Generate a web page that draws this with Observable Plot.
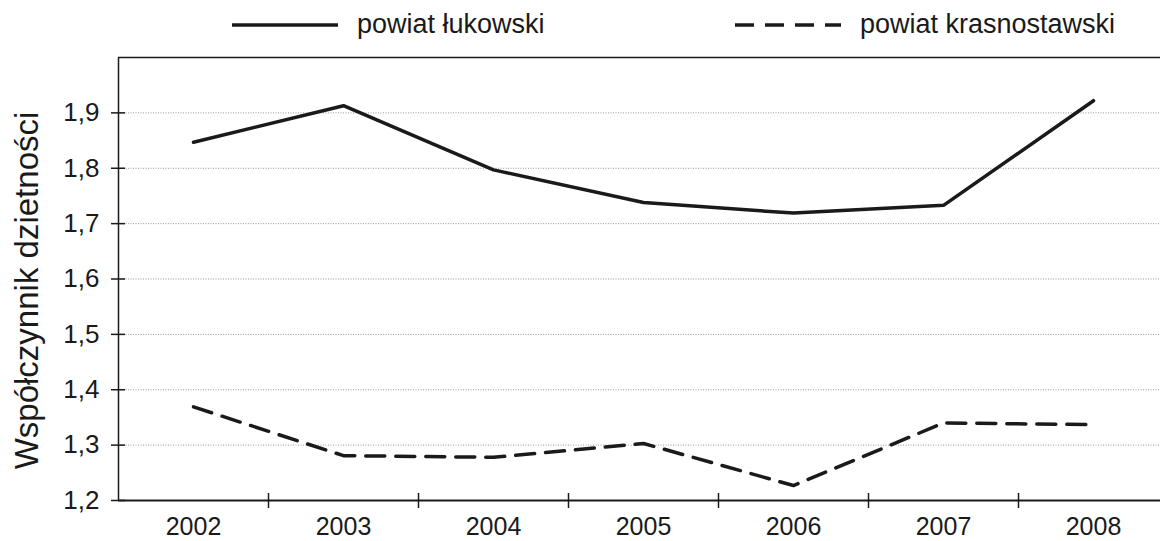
<!DOCTYPE html>
<html>
<head>
<meta charset="utf-8">
<script src="https://cdn.jsdelivr.net/npm/d3@7"></script>
<script src="https://cdn.jsdelivr.net/npm/@observablehq/plot@0.6"></script>
<style>
  html, body { margin: 0; padding: 0; background: #fff; }
  #legend { position: relative; width: 1160px; height: 45px; }
  #legend svg { display: block; }
  #chart svg { display: block; }
</style>
</head>
<body>
<div id="legend"></div>
<div id="chart"></div>
<script>
const years = [2002, 2003, 2004, 2005, 2006, 2007, 2008];
const seriesNames = ["powiat łukowski", "powiat krasnostawski"];
const lukowski = [1.847, 1.913, 1.797, 1.738, 1.719, 1.733, 1.922];
const krasnostawski = [1.369, 1.281, 1.278, 1.303, 1.227, 1.340, 1.337];
const yTicks = [1.2, 1.3, 1.4, 1.5, 1.6, 1.7, 1.8, 1.9];
const gridValues = [1.3, 1.4, 1.5, 1.6, 1.7, 1.8, 1.9];
const yLabel = "Współczynnik dzietności";

const INK = "#1a1a1a";
const FONT = "'Liberation Sans', Arial, Helvetica, sans-serif";
const DASH = "19,11";

const rowsA = years.map((yr, i) => ({year: yr, value: lukowski[i]}));
const rowsB = years.map((yr, i) => ({year: yr, value: krasnostawski[i]}));
const boundaries = years.slice(0, -1).map(y => y + 0.5);
const xMin = years[0] - 0.5, xMax = years[years.length - 1] + 0.5;

// Legend
const lsvg = d3.select("#legend").append("svg").attr("width", 1160).attr("height", 45);
const legendItems = [
  {name: seriesNames[0], x: 232, dash: null},
  {name: seriesNames[1], x: 735, dash: DASH}
];
legendItems.forEach(it => {
  lsvg.append("line").attr("x1", it.x).attr("x2", it.x + 106).attr("y1", 25).attr("y2", 25)
    .attr("stroke", INK).attr("stroke-width", 3.5)
    .attr("stroke-dasharray", it.dash);
  lsvg.append("text").attr("x", it.x + 125).attr("y", 33)
    .attr("font-family", FONT).attr("font-size", 27).attr("fill", INK).text(it.name);
});

const chart = Plot.plot({
  width: 1160,
  height: 496,
  marginLeft: 118,
  marginRight: 0,
  marginTop: 12,
  marginBottom: 41,
  style: {fontFamily: FONT, fontSize: "26px", color: INK, background: "#fff"},
  x: {type: "linear", domain: [xMin, xMax], range: [118, 1168]},
  y: {domain: [1.2, 2.0]},
  marks: [
    Plot.ruleY(gridValues, {stroke: "#999", strokeWidth: 1, strokeDasharray: "1,1.5"}),
    Plot.ruleY([2.0], {stroke: INK, strokeWidth: 1.5}),
    Plot.ruleY([1.2], {stroke: INK, strokeWidth: 2}),
    Plot.ruleX([xMin], {stroke: INK, strokeWidth: 1.5}),
    Plot.ruleX(boundaries, {y1: 1.2, y2: 1.2, insetTop: -7, insetBottom: -8, stroke: INK, strokeWidth: 1.5}),
    Plot.ruleY(yTicks, {x1: xMin, x2: xMin, insetLeft: -7, insetRight: -7, stroke: INK, strokeWidth: 1.5}),
    Plot.axisX({ticks: years, tickSize: 0, tickPadding: 17, tickFormat: d => String(d), label: null, fontSize: 25}),
    Plot.axisY({ticks: yTicks, tickSize: 0, tickPadding: 19, tickFormat: d => d.toFixed(1).replace(".", ","), label: null, fontSize: 26}),
    Plot.text([yLabel], {frameAnchor: "left", text: d => d, rotate: -90, dx: -91.5, dy: 11.5, fontSize: 33, textAnchor: "middle", lineAnchor: "middle", fill: INK}),
    Plot.line(rowsA, {x: "year", y: "value", stroke: INK, strokeWidth: 3.5}),
    Plot.line(rowsB, {x: "year", y: "value", stroke: INK, strokeWidth: 3.5, strokeDasharray: DASH})
  ]
});
document.getElementById("chart").appendChild(chart);
</script>
</body>
</html>
